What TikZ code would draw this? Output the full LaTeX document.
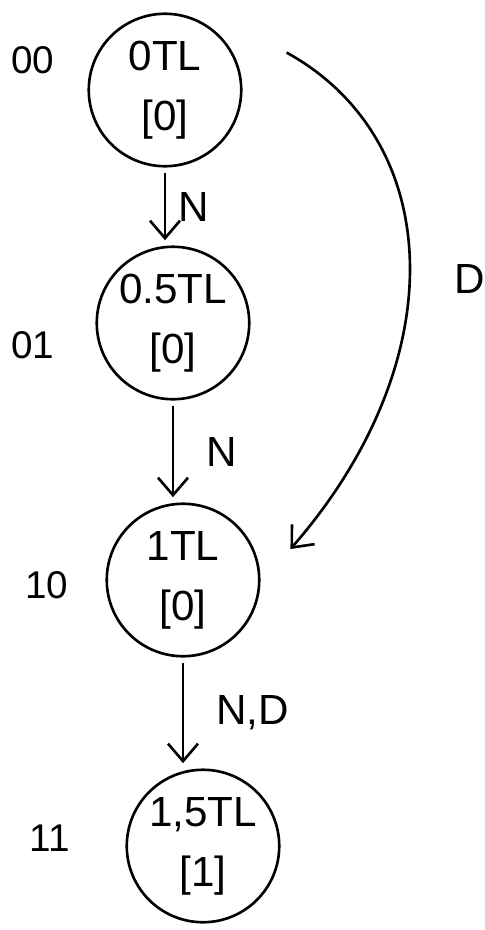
\documentclass[tikz,border=0pt]{standalone}
\usepackage{fontspec}
\setmainfont{Liberation Sans}
\usepackage{tikz}
\usetikzlibrary{arrows.meta, positioning}
\tikzset{
    state/.style={circle, draw, line width=1.5pt, minimum size=3.05cm, inner sep=0pt, align=center, font=\fontsize{24}{34}\selectfont},
    statecode/.style={font=\fontsize{22}{26}\selectfont, inner sep=1pt},
    edgelabel/.style={font=\fontsize{24}{28}\selectfont, inner sep=1pt},
    trans/.style={-{Straight Barb[length=3.5mm, width=6mm]}, line width=1.5pt, shorten <=3pt, shorten >=3pt},
}

\begin{document}
\begin{tikzpicture}[x=0.02cm, y=-0.02cm]
\useasboundingbox (0,0) rectangle (484,930);

% States
\node[state] (s00) at (165, 90) {0TL\\{[0]}};
\node[state] (s01) at (173, 323) {0.5TL\\{[0]}};
\node[state] (s10) at (183, 580) {1TL\\{[0]}};
\node[state] (s11) at (203, 846) {1,5TL\\{[1]}};

% State codes
\node[statecode] (c00) at (33, 60) {00};
\node[statecode] (c01) at (33, 345) {01};
\node[statecode] (c10) at (47, 585) {10};
\node[statecode] (c11) at (50, 838) {11};

% Transitions
\draw[trans] (s00.south) -- node[edgelabel, right=0.2cm] (n1) {N} (s00.south |- s01.north);
\draw[trans] (s01.south) -- node[edgelabel, right=0.6cm] (n2) {N} (s01.south |- s10.north);
\draw[trans] (s10.south) -- node[edgelabel, right=0.6cm] (n3) {N,D} (s10.south |- s11.north);

% D transition
\coordinate (dstart) at (282, 50);
\coordinate (dend) at (287, 553);
\draw[trans] (dstart) .. controls (445, 140) and (455, 360) .. node[edgelabel, pos=0.53, right=0.85cm] (d1) {D} (dend);

\end{tikzpicture}
\end{document}
